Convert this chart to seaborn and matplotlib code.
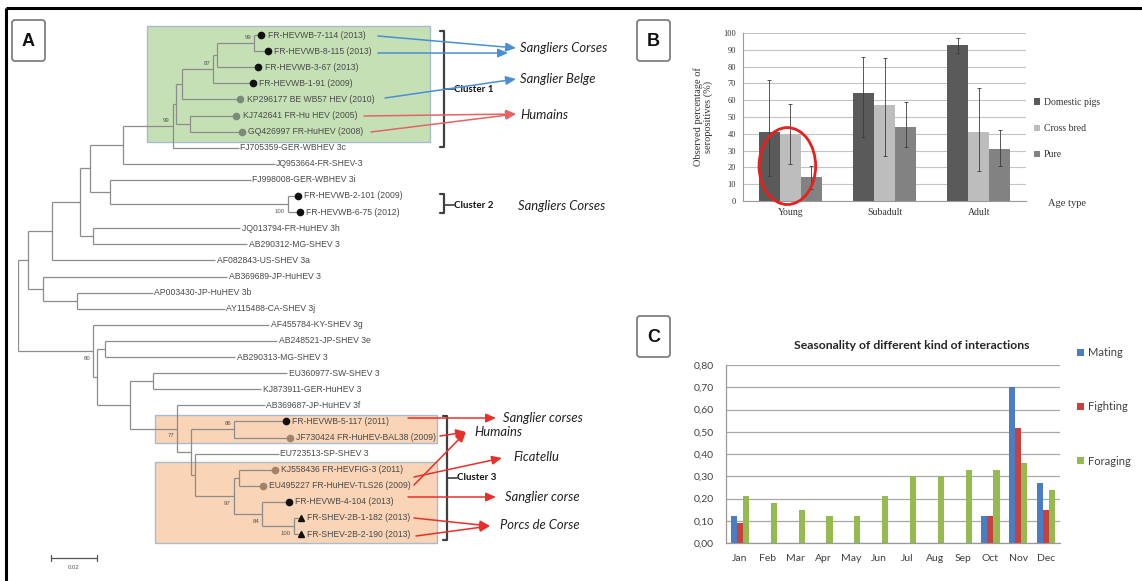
import numpy as np
import pandas as pd
import matplotlib
matplotlib.use('Agg')
import matplotlib.pyplot as plt
import seaborn as sns
from matplotlib.collections import LineCollection
from matplotlib.patches import Rectangle, FancyBboxPatch, Ellipse
from matplotlib.ticker import FuncFormatter

# ---------------- Panel A : phylogenetic tree (HEV genotype 3) ----------------
leaf_labels = [
    'FR-HEVWB-7-114 (2013)', 'FR-HEVWB-8-115 (2013)', 'FR-HEVWB-3-67 (2013)',
    'FR-HEVWB-1-91 (2009)', 'KP296177 BE WB57 HEV (2010)', 'KJ742641 FR-Hu HEV (2005)',
    'GQ426997 FR-HuHEV (2008)', 'FJ705359-GER-WBHEV 3c', 'JQ953664-FR-SHEV-3',
    'FJ998008-GER-WBHEV 3i', 'FR-HEVWB-2-101 (2009)', 'FR-HEVWB-6-75 (2012)',
    'JQ013794-FR-HuHEV 3h', 'AB290312-MG-SHEV 3', 'AF082843-US-SHEV 3a',
    'AB369689-JP-HuHEV 3', 'AP003430-JP-HuHEV 3b', 'AY115488-CA-SHEV 3j',
    'AF455784-KY-SHEV 3g', 'AB248521-JP-SHEV 3e', 'AB290313-MG-SHEV 3',
    'EU360977-SW-SHEV 3', 'KJ873911-GER-HuHEV 3', 'AB369687-JP-HuHEV 3f',
    'FR-HEVWB-5-117 (2011)', 'JF730424 FR-HuHEV-BAL38 (2009)', 'EU723513-SP-SHEV 3',
    'KJ558436 FR-HEVFIG-3 (2011)', 'EU495227 FR-HuHEV-TLS26 (2009)', 'FR-HEVWB-4-104 (2013)',
    'FR-SHEV-2B-1-182 (2013)', 'FR-SHEV-2B-2-190 (2013)',
]
# k = wild boar (black dot), g / o = reference human/boar (grey dot), t = pig (triangle)
leaf_marks = ['k', 'k', 'k', 'k', 'g', 'g', 'g', '', '', '', 'k', 'k',
              '', '', '', '', '', '', '', '', '', '', '', '',
              'k', 'o', '', 'o', 'o', 'k', 't', 't']


def N(bl, *kids, boot=None, up=False):
    return {'bl': bl, 'kids': kids, 'boot': boot, 'up': up}


def L(i, bl):
    return {'bl': bl, 'leaf': i}


# branch lengths in substitutions / site
tree = N(0,
    N(0.0043,
        N(0.0104,
            N(0.0122,
                N(0.0043,
                    N(0.0143,
                        N(0.0217,
                            N(0.0017,
                                N(0.0026,
                                    N(0.0135,
                                        N(0.0017,
                                            N(0.0161, L(0, 0.0030), L(1, 0.0057), boot=99, up=True),
                                            L(2, 0.0178)),
                                        L(3, 0.0170), boot=87, up=True),
                                    L(4, 0.0252)),
                                N(0.0057, L(5, 0.0204), L(6, 0.0226))),
                            L(7, 0.0287), boot=99, up=True),
                        L(8, 0.0661)),
                    N(0.0087, L(9, 0.0613),
                      N(0.0774, L(10, 0.0043), L(11, 0.0052), boot=100))),
                N(0.0057, L(12, 0.0639), L(13, 0.0670))),
            L(14, 0.0709)),
        N(0.0065, L(15, 0.0800), N(0.0148, L(16, 0.0330), L(17, 0.0643)))),
    N(0.0326,
        L(18, 0.0765),
        N(0.0017,
            N(0.0035, L(19, 0.0748), L(20, 0.0565)),
            N(0.0143,
                N(0.0100, L(21, 0.0583), L(22, 0.0470)),
                N(0.0204,
                    L(23, 0.0383),
                    N(0.0061,
                        N(0.0187, L(24, 0.0226), L(25, 0.0243), boot=86, up=True),
                        N(0.0017,
                            L(26, 0.0365),
                            N(0.0170,
                                N(0.0022, L(27, 0.0157), L(28, 0.0104)),
                                N(0.0122, L(29, 0.0117),
                                  N(0.0139, L(30, 0.0030), L(31, 0.0030), boot=100),
                                  boot=84),
                                boot=97))),
                    boot=77))),
        boot=80))

# ---------------- Panel B : seroprevalence by age ----------------
age_groups = ['Young', 'Subadult', 'Adult']
pig_types = ['Domestic pigs', 'Cross bred', 'Pure']
sero_domestic = [41, 64, 93]
sero_cross = [40, 57, 41]
sero_pure = [14, 44, 31]
low_domestic = [15, 38, 88]
low_cross = [22, 27, 18]
low_pure = [7, 32, 21]
high_domestic = [72, 86, 97]
high_cross = [58, 85, 67]
high_pure = [21, 59, 42]

# ---------------- Panel C : seasonality of interactions ----------------
months = ['Jan', 'Feb', 'Mar', 'Apr', 'May', 'Jun', 'Jul', 'Aug', 'Sep', 'Oct', 'Nov', 'Dec']
behaviours = ['Mating', 'Fighting', 'Foraging']
mating = [0.12, 0, 0, 0, 0, 0, 0, 0, 0, 0.12, 0.70, 0.27]
fighting = [0.09, 0, 0, 0, 0, 0, 0, 0, 0, 0.12, 0.515, 0.15]
foraging = [0.21, 0.18, 0.15, 0.12, 0.12, 0.21, 0.30, 0.30, 0.33, 0.33, 0.36, 0.24]

sns.set_theme(style='white')
plt.rcParams['font.family'] = ['Liberation Sans', 'DejaVu Sans']

W, H = 1142, 581
fig = plt.figure(figsize=(W / 100, H / 100), dpi=100)


def px_axes(x0, y0, x1, y1, **kw):
    ax = fig.add_axes([x0 / W, 1 - y1 / H, (x1 - x0) / W, (y1 - y0) / H], **kw)
    ax.patch.set_visible(False)
    return ax


# background canvas in pixel units for frame, boxes, arrows and notes
canvas = px_axes(0, 0, W, H, zorder=0)
canvas.set_xlim(0, W)
canvas.set_ylim(H, 0)
canvas.axis('off')

canvas.plot([6, W], [8, 8], color='black', lw=2.2, solid_capstyle='butt')
canvas.plot([6, 6], [8, H], color='black', lw=2.2, solid_capstyle='butt')

for letter, x0, y0 in [('A', 12, 20), ('B', 637, 20), ('C', 637, 316)]:
    canvas.add_patch(FancyBboxPatch((x0, y0), 33, 41, boxstyle='round,pad=0,rounding_size=3',
                                    fc='white', ec='#808080', lw=1.3))
    canvas.text(x0 + 16.5, y0 + 21, letter, ha='center', va='center', fontsize=13,
                fontweight='bold', color='#111111')

canvas.add_patch(Rectangle((147, 26), 283, 116, fc='#c6e0b6', ec='#a9bccf', lw=1))
canvas.add_patch(Rectangle((155, 415), 282, 28, fc='#fad4b6', ec='#a9bccf', lw=1))
canvas.add_patch(Rectangle((155, 462), 282, 81, fc='#fad4b6', ec='#a9bccf', lw=1))

# cluster brackets
for x, y0, y1, ym, name in [(444, 31, 147, 89, 'Cluster 1'), (444, 194, 213, 205, 'Cluster 2'),
                            (447, 416, 540, 478, 'Cluster 3')]:
    canvas.plot([x - 4, x, x, x - 4], [y0, y0, y1, y1], color='#404040', lw=1.6)
    canvas.plot([x, x + 10], [ym, ym], color='#404040', lw=1.2)
    canvas.text(x + 10, ym, name, ha='left', va='center', fontsize=7, fontweight='bold',
                family=['Lato', 'DejaVu Sans'], color='#111111')

blue, red, pink = '#4a8fd4', '#e8302a', '#e46464'
arrows = [((378, 36), (516, 48), blue), ((378, 53), (508, 53), blue), ((385, 98), (516, 79), blue),
          ((364, 116), (516, 114), pink), ((371, 132), (516, 114), pink),
          ((408, 418), (496, 418), red), ((440, 436), (466, 432), red), ((414, 485), (466, 432), red),
          ((414, 477), (502, 458), red), ((408, 497), (496, 497), red),
          ((414, 518), (490, 526), red), ((416, 536), (490, 526), red)]
for start, end, c in arrows:
    canvas.annotate('', xy=end, xytext=start,
                    arrowprops=dict(arrowstyle='-|>,head_length=0.5,head_width=0.22', color=c,
                                    lw=1.1, shrinkA=0, shrinkB=0))

notes = [('Sangliers Corses', 520, 48), ('Sanglier Belge', 520, 79), ('Humains', 520, 115),
         ('Sangliers Corses', 518, 206), ('Sanglier corses', 503, 418), ('Humains', 474, 432),
         ('Ficatellu', 513, 457), ('Sanglier corse', 505, 497), ('Porcs de Corse', 500, 525)]
for txt, x, y in notes:
    canvas.text(x, y, txt, ha='left', va='center', fontsize=9.4, style='italic',
                family=['Lato', 'DejaVu Sans'], color='#222222')

# tree axes: x in substitutions/site (0.02 = 46 px), y in leaf rows
PX_PER_UNIT, ROW0, ROW = 2300, 35, 16.1
tree_ax = px_axes(18, 11, 438, 574, zorder=1)
tree_ax.set_xlim(0, 420 / PX_PER_UNIT)
tree_ax.set_ylim((574 - ROW0) / ROW, (11 - ROW0) / ROW)
tree_ax.axis('off')

segs, nodes, leaf_nodes = [], [], {}


def walk(node, x0):
    x = x0 + node['bl']
    node['x'] = x
    if 'leaf' in node:
        node['y'] = node['leaf']
        leaf_nodes[node['leaf']] = node
    else:
        for k in node['kids']:
            walk(k, x)
        node['y'] = (node['kids'][0]['y'] + node['kids'][-1]['y']) / 2
        segs.append([(x, node['kids'][0]['y']), (x, node['kids'][-1]['y'])])
        nodes.append(node)
    segs.append([(x0, node['y']), (x, node['y'])])


walk(tree, 0)
tree_ax.add_collection(LineCollection(segs, colors='#8c8c8c', linewidths=0.9))

for nd in nodes:
    if nd['boot'] is not None:
        tree_ax.annotate(str(nd['boot']), (nd['x'], nd['y'] + (-0.35 if nd['up'] else 0.45)),
                         xytext=(-2, 0), textcoords='offset points', ha='right', va='center',
                         fontsize=4.3, color='#555555')

mark_style = {'k': ('o', '#111111'), 'g': ('o', '#7a8c76'), 'o': ('o', '#a3826a'), 't': ('^', '#111111')}
for i, label in enumerate(leaf_labels):
    nd = leaf_nodes[i]
    m = leaf_marks[i]
    if m:
        shape, col = mark_style[m]
        tree_ax.plot(nd['x'], nd['y'], marker=shape, ms=4.5, color=col, mec=col, ls='none')
    tree_ax.annotate(label, (nd['x'], nd['y']), xytext=(4.5 if m else 1.2, 0),
                     textcoords='offset points', ha='left', va='center', fontsize=6.2,
                     color='#4a4a4a')

sb_x0 = (51 - 18) / PX_PER_UNIT
tree_ax.plot([sb_x0, sb_x0 + 0.02], [32.5, 32.5], color='#555555', lw=0.9)
for xx in (sb_x0, sb_x0 + 0.02):
    tree_ax.plot([xx, xx], [32.3, 32.7], color='#555555', lw=0.9)
tree_ax.text(sb_x0 + 0.01, 33.1, '0.02', ha='center', va='center', fontsize=4.3, color='#555555')

# ---------------- Panel B ----------------
serif = ['Liberation Serif', 'DejaVu Serif']
dfB = pd.DataFrame({'age': age_groups * 3,
                    'type': np.repeat(pig_types, 3),
                    'pct': sero_domestic + sero_cross + sero_pure})
axB = px_axes(743, 33, 1026, 201, zorder=2)
sns.barplot(data=dfB, x='age', y='pct', hue='type', hue_order=pig_types,
            palette=['#5a5a5a', '#bdbdbd', '#828282'], saturation=1, width=0.67, gap=0,
            errorbar=None, linewidth=0, ax=axB)
lows = [low_domestic, low_cross, low_pure]
highs = [high_domestic, high_cross, high_pure]
for cont, lo, hi in zip(axB.containers, lows, highs):
    xs = [b.get_x() + b.get_width() / 2 for b in cont]
    ys = np.array([b.get_height() for b in cont])
    axB.errorbar(xs, ys, yerr=[ys - np.array(lo), np.array(hi) - ys], fmt='none',
                 ecolor='#3c3c3c', elinewidth=0.6, capsize=1.5, capthick=0.6, zorder=3)
axB.set_ylim(0, 100)
axB.set_xlim(-0.5, 2.5)
axB.set_yticks(range(0, 101, 10))
axB.yaxis.grid(True, color='#c4c4c4', lw=0.8)
axB.set_axisbelow(True)
for s in ['top', 'right']:
    axB.spines[s].set_visible(False)
for s in ['left', 'bottom']:
    axB.spines[s].set_color('#9a9a9a')
    axB.spines[s].set_linewidth(0.8)
axB.tick_params(axis='y', length=0, pad=5, labelsize=6, labelcolor='#333333')
axB.tick_params(axis='x', length=0, pad=5, labelsize=7, labelcolor='#333333')
axB.set_xticks([-0.5, 0.5, 1.5, 2.5], minor=True)
axB.tick_params(axis='x', which='minor', length=3, color='#9a9a9a', direction='out')
for t in axB.get_xticklabels() + axB.get_yticklabels():
    t.set_family(serif)
axB.set_xlabel('')
axB.set_ylabel('Observed percentage of\nseropositives (%)', fontsize=7.5, family=serif,
                color='#333333', linespacing=1.1)
axB.yaxis.set_label_coords(-0.105, 0.5)
axB.text(1.078, -0.015, 'Age type', transform=axB.transAxes, ha='left', va='center',
         fontsize=7.5, family=serif, color='#333333')
axB.add_patch(Ellipse((-0.03, 20.8), 0.6, 45.8, fill=False, ec='#e8201c', lw=2, clip_on=False,
                      zorder=5))
legB = axB.get_legend()
axB.legend(legB.legend_handles, [t.get_text() for t in legB.get_texts()], loc='upper left',
           bbox_to_anchor=(1034 / W, 1 - 98 / H), bbox_transform=fig.transFigure, frameon=False,
           prop=dict(family=serif, size=7), handlelength=0.6, handleheight=0.6,
           handletextpad=0.4, labelspacing=1.75, borderpad=0, borderaxespad=0,
           labelcolor='#333333')

# ---------------- Panel C ----------------
calib = ['Lato', 'DejaVu Sans']
dfC = pd.DataFrame({'month': months * 3,
                    'behaviour': np.repeat(behaviours, 12),
                    'freq': mating + fighting + foraging})
axC = px_axes(726, 365, 1060, 543, zorder=2)
sns.barplot(data=dfC, x='month', y='freq', hue='behaviour', hue_order=behaviours,
            palette=['#4a7dc4', '#c8413c', '#95bb4f'], saturation=1, width=0.66, gap=0,
            errorbar=None, linewidth=0, ax=axC)
axC.set_ylim(0, 0.8)
axC.set_xlim(-0.5, 11.5)
axC.set_yticks(np.arange(0, 0.81, 0.1))
axC.yaxis.set_major_formatter(FuncFormatter(lambda v, p: f'{v:.2f}'.replace('.', ',')))
axC.yaxis.grid(True, color='#a8a8a8', lw=0.9)
axC.set_axisbelow(True)
for s in ['top', 'right']:
    axC.spines[s].set_visible(False)
for s in ['left', 'bottom']:
    axC.spines[s].set_color('#9a9a9a')
    axC.spines[s].set_linewidth(0.9)
axC.tick_params(axis='y', length=0, pad=9, labelsize=7.5, labelcolor='#404040')
axC.tick_params(axis='x', length=0, pad=8, labelsize=7.5, labelcolor='#404040')
for t in axC.get_xticklabels() + axC.get_yticklabels():
    t.set_family(calib)
axC.set_xlabel('')
axC.set_ylabel('')
axC.text(0.557, 1.107, 'Seasonality of different kind of interactions', transform=axC.transAxes,
         ha='center', va='center', fontsize=8.8, fontweight='bold', family=calib,
         color='#262626')
legC = axC.get_legend()
axC.legend(legC.legend_handles, [t.get_text() for t in legC.get_texts()], loc='upper left',
           bbox_to_anchor=(1077 / W, 1 - 347 / H), bbox_transform=fig.transFigure, frameon=False,
           prop=dict(family=calib, size=8), handlelength=0.6, handleheight=0.6,
           handletextpad=0.4, labelspacing=3.9, borderpad=0, borderaxespad=0,
           labelcolor='#404040')

fig.savefig('out.png', dpi=100)
